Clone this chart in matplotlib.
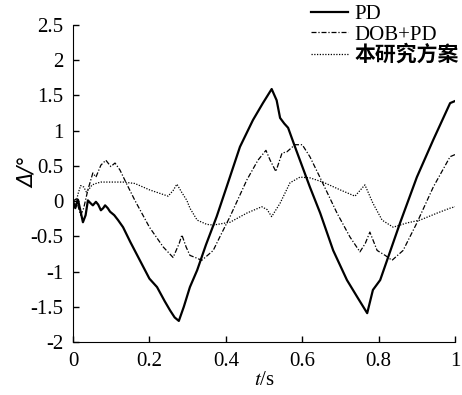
import matplotlib
matplotlib.use("Agg")
import matplotlib.pyplot as plt

plt.rcParams['font.family'] = ['Liberation Serif', 'Noto Sans CJK SC']
plt.rcParams['mathtext.fontset'] = 'stix'

# PD
t_pd = [0, 0.006, 0.013, 0.02, 0.026, 0.033, 0.039, 0.046, 0.052, 0.06, 0.066,
        0.073, 0.079, 0.084, 0.091, 0.097, 0.108, 0.118, 0.131, 0.15, 0.175, 0.2,
        0.22, 0.24, 0.254, 0.266, 0.277, 0.29, 0.306, 0.325, 0.348, 0.376, 0.402,
        0.437, 0.471, 0.497, 0.52, 0.533, 0.542, 0.553, 0.563, 0.581, 0.62, 0.647,
        0.681, 0.717, 0.745, 0.77, 0.785, 0.804, 0.822, 0.856, 0.9, 0.943, 0.987, 1.0]
y_pd = [0, -0.1, 0.02, -0.15, -0.3, -0.2, 0.01, -0.03, -0.06, -0.01, -0.05,
        -0.13, -0.1, -0.06, -0.1, -0.15, -0.2, -0.27, -0.37, -0.58, -0.84, -1.1,
        -1.22, -1.42, -1.55, -1.65, -1.70, -1.5, -1.22, -0.98, -0.62, -0.22, 0.2,
        0.77, 1.15, 1.39, 1.59, 1.43, 1.18, 1.1, 1.04, 0.77, 0.2, -0.17,
        -0.70, -1.12, -1.37, -1.59, -1.26, -1.12, -0.84, -0.31, 0.34, 0.87, 1.39, 1.42]

# DOB+PD
t_dob = [0, 0.008, 0.02, 0.028, 0.039, 0.052, 0.06, 0.073, 0.086, 0.099, 0.11,
         0.123, 0.139, 0.162, 0.2, 0.236, 0.262, 0.278, 0.285, 0.296, 0.306, 0.32,
         0.337, 0.35, 0.367, 0.385, 0.411, 0.455, 0.484, 0.505, 0.516, 0.531, 0.547,
         0.56, 0.581, 0.6, 0.62, 0.647, 0.691, 0.725, 0.751, 0.765, 0.777, 0.796,
         0.817, 0.835, 0.864, 0.9, 0.943, 0.987, 1.0]
y_dob = [0, 0.03, -0.2, -0.1, 0.16, 0.4, 0.34, 0.51, 0.58, 0.49, 0.54,
         0.44, 0.26, 0.01, -0.37, -0.65, -0.80, -0.6, -0.48, -0.65, -0.77, -0.8,
         -0.84, -0.78, -0.7, -0.5, -0.22, 0.3, 0.58, 0.72, 0.58, 0.42, 0.68,
         0.7, 0.8, 0.8, 0.63, 0.33, -0.17, -0.51, -0.72, -0.6, -0.44, -0.7,
         -0.77, -0.84, -0.7, -0.31, 0.2, 0.63, 0.66]

# 本研究方案
t_new = [0, 0.005, 0.013, 0.02, 0.028, 0.035, 0.042, 0.05, 0.06, 0.073, 0.089,
         0.118, 0.131, 0.162, 0.2, 0.249, 0.262, 0.272, 0.285, 0.298, 0.306, 0.325,
         0.35, 0.367, 0.411, 0.455, 0.494, 0.508, 0.52, 0.542, 0.568, 0.594, 0.62,
         0.654, 0.699, 0.738, 0.764, 0.785, 0.809, 0.838, 0.874, 0.908, 0.953, 0.987, 1.0]
y_new = [0, -0.1, 0.1, 0.22, 0.2, 0.13, 0.17, 0.23, 0.25, 0.27, 0.27,
         0.27, 0.27, 0.25, 0.16, 0.07, 0.15, 0.24, 0.12, 0.01, -0.1, -0.27,
         -0.33, -0.34, -0.3, -0.17, -0.08, -0.12, -0.22, -0.03, 0.26, 0.34, 0.33,
         0.27, 0.16, 0.07, 0.23, -0.03, -0.27, -0.37, -0.31, -0.27, -0.17, -0.1, -0.08]

labels = ['PD', 'DOB+PD', '本研究方案']
x_ticks = [0, 0.2, 0.4, 0.6, 0.8, 1]
x_ticklabels = ['0', '0.2', '0.4', '0.6', '0.8', '1']
y_ticks = [-2, -1.5, -1, -0.5, 0, 0.5, 1, 1.5, 2, 2.5]
y_ticklabels = ['-2', '-1.5', '-1', '-0.5', '0', '0.5', '1', '1.5', '2', '2.5']

fig = plt.figure(figsize=(4.62, 3.95), dpi=100)
ax = fig.add_axes([0.158, 0.134, 0.827, 0.803])

ax.plot(t_pd, y_pd, color='black', linewidth=1.6, label=labels[0])
ax.plot(t_dob, y_dob, color='black', linewidth=0.9, dashes=(4, 1.5, 1, 1.5), label=labels[1])
ax.plot(t_new, y_new, color='black', linewidth=0.9, dashes=(1, 1.2), label=labels[2])

ax.set_xlim(0, 1)
ax.set_ylim(-2, 2.5)
ax.set_xticks(x_ticks)
ax.set_xticklabels(x_ticklabels)
ax.set_yticks(y_ticks)
ax.set_yticklabels(y_ticklabels)
ax.tick_params(direction='in', length=4, width=1, labelsize=15, pad=7)
ax.spines['top'].set_visible(False)
ax.spines['right'].set_visible(False)

ax.set_xlabel(r'$\it{t}$/s', fontsize=15, labelpad=0)
ax.set_ylabel('Δ/°', fontsize=15, family='DejaVu Sans', style='italic')
ax.yaxis.set_label_coords(-0.092, 0.535)

leg = fig.legend(loc='upper left', bbox_to_anchor=(0.655, 1.01), frameon=False,
                 fontsize=15, handlelength=1.8, handletextpad=0.3,
                 labelspacing=0.05, borderaxespad=0)
leg.get_texts()[2].set_fontweight('bold')

fig.savefig('out.png', dpi=100)
